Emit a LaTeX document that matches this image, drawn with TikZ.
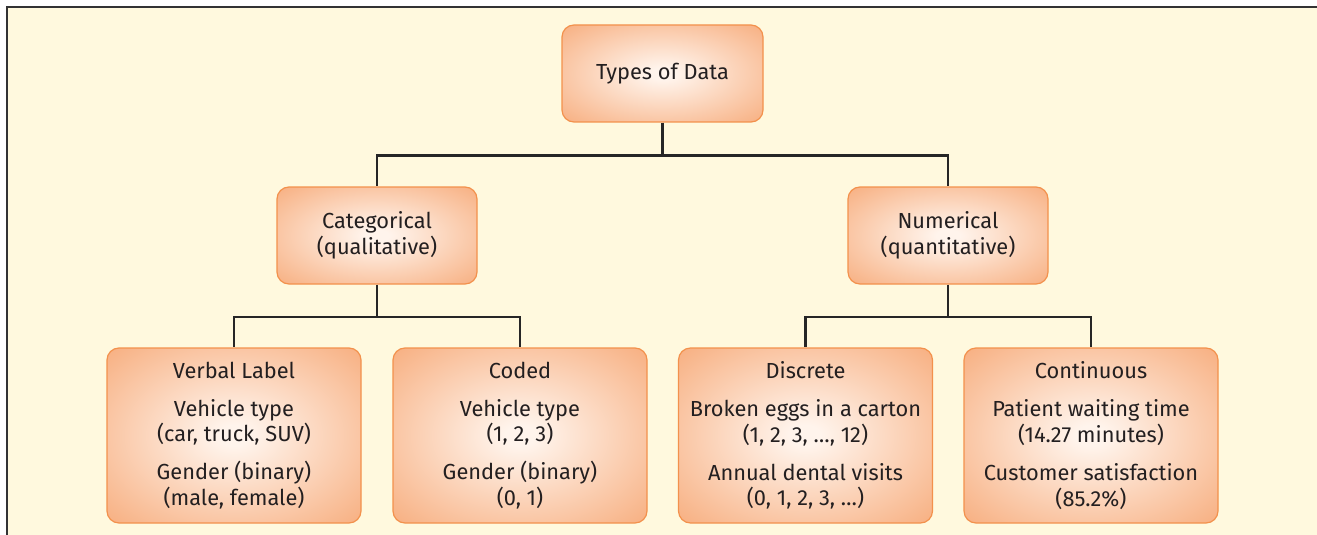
\documentclass[tikz,border=0pt]{standalone}
\usepackage{fontspec}
\setmainfont{Fira Sans}
\usetikzlibrary{positioning}
\definecolor{paper}{HTML}{FFF9DE}
\definecolor{boxin}{HTML}{FFF4EC}
\definecolor{boxout}{HTML}{F7AE7F}
\definecolor{boxline}{HTML}{F3914C}
\definecolor{ink}{HTML}{231F20}
\pgfdeclareradialshading{glow}{\pgfpoint{0bp}{0bp}}{color(0bp)=(boxin); color(3bp)=(boxin); color(36bp)=(boxout); color(100bp)=(boxout)}
\tikzset{D node/.style={rectangle,rounded corners=6pt,draw=boxline,line width=0.6pt,shade,shading=glow,align=center,text=ink,inner sep=0pt,font=\fontsize{10.9}{12.8}\selectfont},
	D line/.style={draw=black!85,line width=1.1pt},}

\begin{document}
\begin{tikzpicture}[x=0.5pt,y=-0.5pt]
			\useasboundingbox[fill=white] (0,0) rectangle (1317,535);
			\fill[paper] (7,7) rectangle (1317,535);
			\draw[black!80, line width=1pt] (1317,7) -- (7,7) -- (7,535);

			\node[D node, minimum width=100.5pt, minimum height=48.5pt] (types) at (662.5,73.5) {Types of Data};

			\node[D node, minimum width=100pt, minimum height=48.5pt] (cat) at (377,235.5) {Categorical\\(qualitative)};
			\node[D node, minimum width=100pt, minimum height=48.5pt] (num) at (948,235.5) {Numerical\\(quantitative)};

			\node[D node, minimum width=127pt, minimum height=87.5pt] (verbal) at (234,435.5) {Verbal Label\\[6.2pt]Vehicle type\\(car, truck, SUV)\\[6.2pt]Gender (binary)\\(male, female)};
			\node[D node, minimum width=127pt, minimum height=87.5pt] (coded) at (520,435.5) {Coded\\[6.2pt]Vehicle type\\(1, 2, 3)\\[6.2pt]Gender (binary)\\(0, 1)};
			\node[D node, minimum width=127pt, minimum height=87.5pt] (discrete) at (805.5,435.5) {Discrete\\[6.2pt]Broken eggs in a carton\\(1, 2, 3, …, 12)\\[6.2pt]Annual dental visits\\(0, 1, 2, 3, …)};
			\node[D node, minimum width=127pt, minimum height=87.5pt] (cont) at (1091,435.5) {Continuous\\[6.2pt]Patient waiting time\\(14.27 minutes)\\[6.2pt]Customer satisfaction\\(85.2\%)};

			\path[D line]
				(types.south) -- ++(0,33) -| (cat.north)
				(types.south) -- ++(0,33) -| (num.north)
				(cat.south) -- ++(0,32) -| (verbal.north)
				(cat.south) -- ++(0,32) -| (coded.north)
				(num.south) -- ++(0,32) -| (discrete.north)
				(num.south) -- ++(0,32) -| (cont.north);
		\end{tikzpicture}
\end{document}
